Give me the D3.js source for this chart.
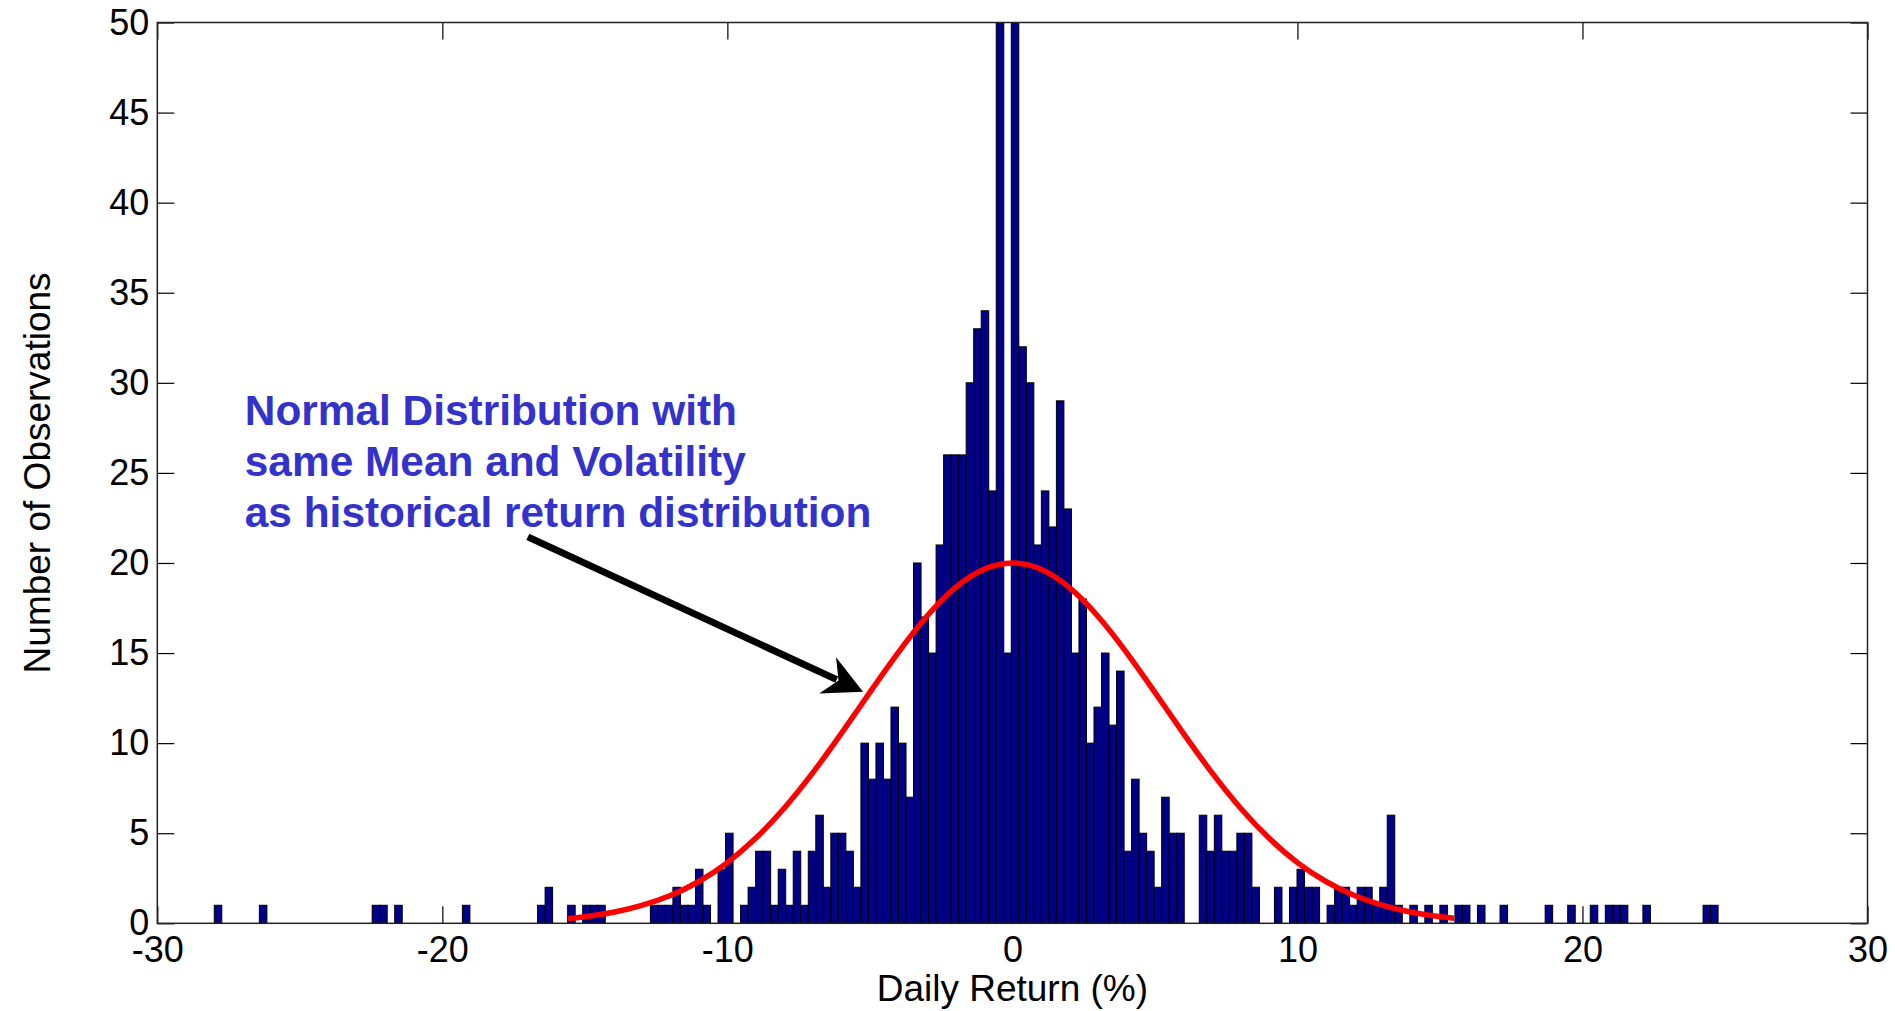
<!DOCTYPE html>
<html><head><meta charset="utf-8">
<script src="https://cdn.jsdelivr.net/npm/d3@7"></script>
<style>
html,body{margin:0;padding:0;background:#fff;}
svg{display:block;}
text{font-family:"Liberation Sans",Arial,Helvetica,sans-serif;}
</style></head><body>
<svg id="chart" width="1895" height="1011"></svg>
<script>
// ---- data ----
const binCounts = [
  1,0,0,0,0,0,1,0,0,0, 0,0,0,0,0,0,0,0,0,0,
  0,1,1,0,1,0,0,0,0,0, 0,0,0,1,0,0,0,0,0,0,
  0,0,0,1,2,0,0,1,0,1, 1,1,0,0,0,0,0,0,1,1,
  1,2,1,1,3,1,0,3,5,0, 1,2,4,4,1,3,1,4,1,4,
  6,2,5,5,4,2,10,8,10,8, 12,10,7,20,17,15,21,26,26,26,
  30,33,34,24,55,15,55,32,30,21, 24,22,29,23,15,18,10,12,15,11,
  14,4,8,5,4,2,7,5,5,0, 0,6,4,6,4,4,5,5,2,0,
  0,2,0,2,3,2,2,0,1,2, 2,1,2,2,1,2,6,1,0,1,
  0,1,0,1,0,1,1,0,1,0, 0,1,0,0,0,0,0,1,0,0,
  1,0,0,1,0,1,1,1,0,0, 1,0,0,0,0,0,0,0,1,1
];
const firstBinCenter = -27.87;   // % return, centre of first bin
const binWidth = 0.2638;         // % return per bin
const xTicks = [-30, -20, -10, 0, 10, 20, 30];
const yTicks = [0, 5, 10, 15, 20, 25, 30, 35, 40, 45, 50];
const curveX = [-15.6,-15,-14,-13,-12,-11,-10,-9,-8,-7,-6,-5,-4,-3,-2,-1,0,1,2,3,4,5,6,7,8,9,10,11,12,13,14,15,15.5];
const curveY = [0.26,0.36,0.61,0.99,1.54,2.32,3.37,4.73,6.40,8.36,10.54,12.82,15.04,17.04,18.63,19.65,20,19.65,18.63,17.04,15.04,12.82,10.54,8.36,6.40,4.73,3.37,2.32,1.54,0.99,0.61,0.36,0.28];
const annotationLines = ["Normal Distribution with", "same Mean and Volatility", "as historical return distribution"];
const annotationAnchor = [-26.93, 27.64];      // data units: left / first baseline
const arrowFrom = [-17.0, 21.45];
const arrowTo = [-5.24, 12.85];
const xLabel = "Daily Return (%)";
const yLabel = "Number of Observations";

// ---- layout ----
const W = 1895, H = 1011;
const margin = {left: 157.3, right: 27.5, top: 22.5, bottom: 87.7};
const svg = d3.select("#chart");
const x = d3.scaleLinear().domain([-30, 30]).range([margin.left, W - margin.right]);
const y = d3.scaleLinear().domain([0, 50]).range([H - margin.bottom, margin.top]);
const tickLen = 17;
const fmt = d => String(d);

svg.append("defs").append("clipPath").attr("id", "plotclip")
  .append("rect").attr("x", x(-30)).attr("y", y(50))
  .attr("width", x(30) - x(-30)).attr("height", y(0) - y(50));

function styleAxis(g) {
  g.attr("font-family", null).attr("font-size", null);
  g.selectAll("text").style("font-size", "36px").attr("fill", "#000");
  g.selectAll(".tick line").attr("stroke", "#000").attr("stroke-width", 1.2);
  g.select(".domain").remove();
}

// axes (ticks under the bars, like the original)
svg.append("g").attr("transform", `translate(0,${y(0)})`)
  .call(d3.axisBottom(x).tickValues(xTicks).tickFormat(fmt).tickSize(-tickLen).tickSizeOuter(0).tickPadding(13))
  .call(styleAxis);
svg.append("g").attr("transform", `translate(0,${y(50)})`)
  .call(d3.axisTop(x).tickValues(xTicks).tickSize(-tickLen).tickSizeOuter(0).tickFormat(""))
  .call(styleAxis);
svg.append("g").attr("transform", `translate(${x(-30)},0)`)
  .call(d3.axisLeft(y).tickValues(yTicks).tickFormat(fmt).tickSize(-tickLen).tickSizeOuter(0).tickPadding(8))
  .call(styleAxis);
svg.append("g").attr("transform", `translate(${x(30)},0)`)
  .call(d3.axisRight(y).tickValues(yTicks).tickSize(-tickLen).tickSizeOuter(0).tickFormat(""))
  .call(styleAxis);

// histogram bars
const bins = binCounts.map((c, i) => ({c, center: firstBinCenter + i * binWidth})).filter(d => d.c > 0);
svg.append("g").attr("clip-path", "url(#plotclip)")
  .selectAll("rect").data(bins).join("rect")
  .attr("x", d => x(d.center - binWidth / 2))
  .attr("width", d => x(d.center + binWidth / 2) - x(d.center - binWidth / 2))
  .attr("y", d => y(d.c))
  .attr("height", d => y(0) - y(d.c))
  .attr("fill", "#000088")
  .attr("stroke", "#000")
  .attr("stroke-width", 1);

// frame
svg.append("rect").attr("x", x(-30)).attr("y", y(50))
  .attr("width", x(30) - x(-30)).attr("height", y(0) - y(50))
  .attr("fill", "none").attr("stroke", "#222").attr("stroke-width", 1.5);

// normal curve
const pts = curveX.map((v, i) => [v, curveY[i]]);
svg.append("path").datum(pts)
  .attr("d", d3.line().x(d => x(d[0])).y(d => y(d[1])).curve(d3.curveNatural))
  .attr("fill", "none").attr("stroke", "#ff0000").attr("stroke-width", 5.5)
  .attr("stroke-linecap", "butt").attr("stroke-linejoin", "round");

// annotation text
const ann = svg.append("text")
  .attr("x", x(annotationAnchor[0])).attr("y", y(annotationAnchor[1]))
  .attr("fill", "#3333cc").style("font-size", "42.4px").style("font-weight", "bold");
annotationLines.forEach((t, i) => {
  ann.append("tspan").attr("x", x(annotationAnchor[0])).attr("dy", i === 0 ? 0 : 51).text(t);
});

// arrow
const S = [x(arrowFrom[0]), y(arrowFrom[1])];
const T = [x(arrowTo[0]), y(arrowTo[1])];
const dx = T[0] - S[0], dy = T[1] - S[1], len = Math.hypot(dx, dy);
const u = [dx / len, dy / len], n = [-u[1], u[0]];
const headLen = 39, headHalf = 20, notch = 27;
const P = (a, b) => [T[0] + a * u[0] + b * n[0], T[1] + a * u[1] + b * n[1]];
svg.append("line")
  .attr("x1", S[0]).attr("y1", S[1])
  .attr("x2", P(-notch - 2, 0)[0]).attr("y2", P(-notch - 2, 0)[1])
  .attr("stroke", "#000").attr("stroke-width", 7);
svg.append("polygon")
  .attr("points", [T, P(-headLen, headHalf), P(-notch, 0), P(-headLen, -headHalf)].map(p => p.join(",")).join(" "))
  .attr("fill", "#000");

// axis labels
svg.append("text").attr("x", (x(-30) + x(30)) / 2).attr("y", 1001)
  .attr("text-anchor", "middle").style("font-size", "37px").attr("fill", "#000").text(xLabel);
svg.append("text").attr("transform", `translate(50,${(y(0) + y(50)) / 2}) rotate(-90)`)
  .attr("text-anchor", "middle").style("font-size", "37px").attr("fill", "#000").text(yLabel);
</script>
</body></html>
